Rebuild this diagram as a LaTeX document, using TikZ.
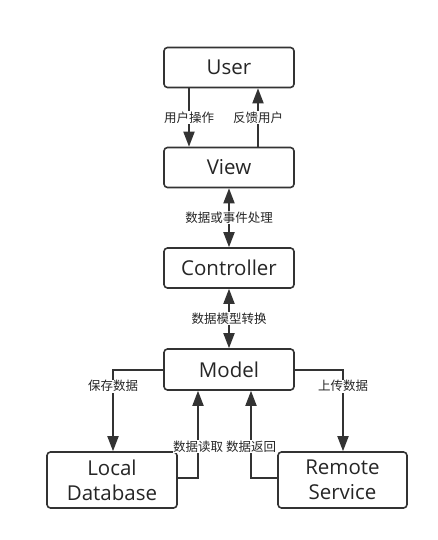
\documentclass[tikz,border=0pt]{standalone}
\usepackage{fontspec}
\setmainfont{Open Sans}
\newfontfamily\cjk{Noto Sans CJK SC}
\usetikzlibrary{arrows.meta}
\begin{document}
\begin{tikzpicture}[x=1pt,y=-1pt,
  box/.style={draw=black!80, line width=1.6pt, rounded corners=3.5pt, fill=white, inner sep=0pt, align=center, font=\fontsize{20.5}{25}\selectfont, text=black!85},
  conn/.style={draw=black!80, line width=1.8pt, -{Triangle[length=15pt,width=11pt]}},
  dconn/.style={draw=black!80, line width=1.8pt, {Triangle[length=15pt,width=11pt]}-{Triangle[length=15pt,width=11pt]}},
  lbl/.style={fill=white, inner sep=0.5pt, font=\cjk\fontsize{12.5}{14}\selectfont, text=black!85}]
\fill[white] (0,0) rectangle (438,540);
\useasboundingbox (0,0) rectangle (438,540);
\node[box, minimum width=130pt, minimum height=40pt] (user) at (229,67.5) {User};
\node[box, minimum width=130pt, minimum height=40pt] (view) at (229,167.5) {View};
\node[box, minimum width=130pt, minimum height=40pt] (ctrl) at (229,268) {Controller};
\node[box, minimum width=130pt, minimum height=41pt] (model) at (229,369.5) {Model};
\node[box, minimum width=130pt, minimum height=56pt] (local) at (112,480) {Local\\Database};
\node[box, minimum width=129pt, minimum height=56pt] (remote) at (342.5,480) {Remote\\Service};
% User <-> View
\draw[conn] (user.south -| 189,0) -- node[lbl, pos=0.5] (l1) {用户操作} (view.north -| 189,0);
\draw[conn] (view.north -| 258,0) -- node[lbl, pos=0.5] (l2) {反馈用户} (user.south -| 258,0);
% View <-> Controller
\draw[dconn] (view.south) -- node[lbl] (l3) {数据或事件处理} (ctrl.north);
% Controller <-> Model
\draw[dconn] (ctrl.south) -- node[lbl] (l4) {数据模型转换} (model.north);
% Model -> Local
\coordinate (c1) at (113,370);
\draw[conn] (model.west |- c1) -- (c1) -- node[lbl, pos=0.2] (l5) {保存数据} (local.north -| c1);
% Local -> Model
\coordinate (c2) at (198,478);
\draw[conn] (local.east |- c2) -- (c2) -- node[lbl, pos=0.36] (l6) {数据读取} (model.south -| c2);
% Model -> Remote
\coordinate (c3) at (343,370);
\draw[conn] (model.east |- c3) -- (c3) -- node[lbl, pos=0.2] (l7) {上传数据} (remote.north -| c3);
% Remote -> Model
\coordinate (c4) at (251,478);
\draw[conn] (remote.west |- c4) -- (c4) -- node[lbl, pos=0.36] (l8) {数据返回} (model.south -| c4);
\end{tikzpicture}
\end{document}
